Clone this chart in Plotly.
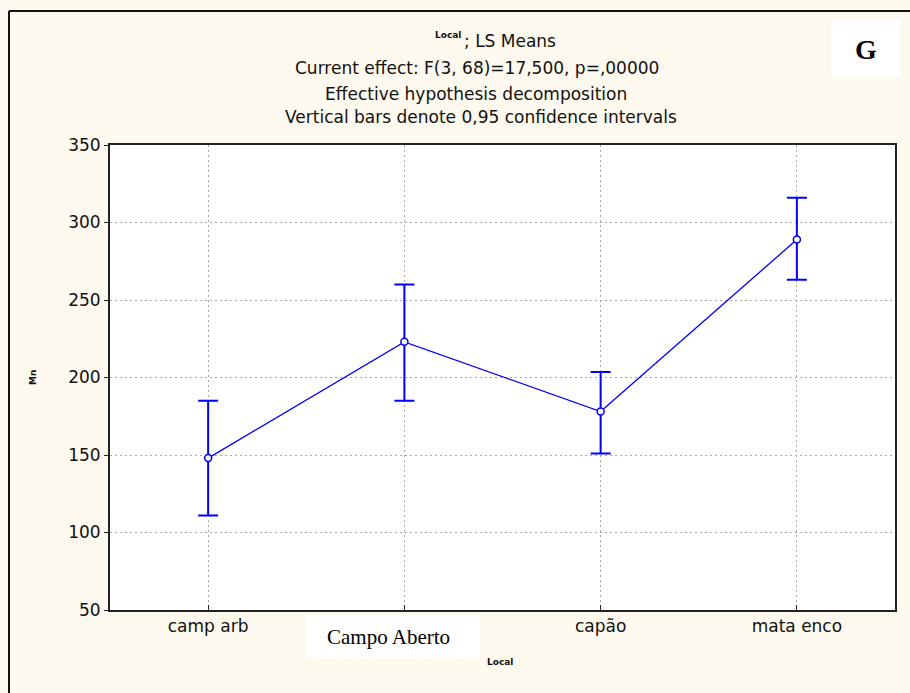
import plotly.graph_objects as go

categories = ["camp arb", "Campo Aberto", "capão", "mata enco"]
tick_labels = ["camp arb", "", "capão", "mata enco"]
means = [148, 223, 178, 289]
upper = [185, 260, 203.5, 316]
lower = [111, 185, 151, 263]

err_plus = [u - m for u, m in zip(upper, means)]
err_minus = [m - l for m, l in zip(means, lower)]
xpos = list(range(len(categories)))

fig = go.Figure()
fig.add_trace(go.Scatter(
    x=xpos, y=means, mode="lines+markers",
    line=dict(color="#0000FF", width=1.3),
    marker=dict(symbol="circle", size=7, color="white",
                line=dict(color="#0000FF", width=1.5)),
    error_y=dict(type="data", symmetric=False, array=err_plus, arrayminus=err_minus,
                 color="#0000FF", thickness=2, width=10),
    showlegend=False,
))

bg = "#FEF9EE"
sans = "DejaVu Sans, Verdana, sans-serif"
serif = "Liberation Serif, Times New Roman, serif"
fig.update_layout(
    width=910, height=693,
    margin=dict(l=110, r=15, t=145, b=83),
    paper_bgcolor=bg, plot_bgcolor="white",
    font=dict(family=sans, color="#111", size=16),
    xaxis=dict(
        range=[-0.5, 3.5], tickmode="array", tickvals=xpos, ticktext=tick_labels,
        showgrid=True, gridcolor="#a8a8a8", griddash="2px,3px", gridwidth=1,
        showline=True, linecolor="#222", linewidth=2, mirror=True,
        ticks="inside", ticklen=5, tickcolor="#222", zeroline=False,
        tickfont=dict(size=17),
    ),
    yaxis=dict(
        range=[50, 350], tickmode="array", tickvals=[50, 100, 150, 200, 250, 300, 350],
        showgrid=True, gridcolor="#a8a8a8", griddash="2px,3px", gridwidth=1,
        showline=True, linecolor="#222", linewidth=2, mirror=True,
        ticks="outside", ticklen=4, tickcolor="#222", zeroline=False,
        tickfont=dict(size=17),
    ),
)


def px(xp):
    return (xp - 110) / 785


def py(yp):
    return 1 - (yp - 145) / 465


title_lines = [
    ("; LS Means", 41, 510),
    ("Current effect: F(3, 68)=17,500, p=,00000", 68, 477),
    ("Effective hypothesis decomposition", 94, 476),
    ("Vertical bars denote 0,95 confidence intervals", 117, 481),
]
for txt, y, xc in title_lines:
    fig.add_annotation(xref="paper", yref="paper", x=px(xc), y=py(y),
                       text=txt, showarrow=False, font=dict(size=17),
                       xanchor="center", yanchor="middle")
fig.add_annotation(xref="paper", yref="paper", x=px(448), y=py(35),
                   text="<b>Local</b>", showarrow=False, font=dict(size=9),
                   xanchor="center", yanchor="middle")

# axis titles
fig.add_annotation(xref="paper", yref="paper", x=px(33), y=py(378),
                   text="<b>Mn</b>", showarrow=False, textangle=-90, font=dict(size=9),
                   xanchor="center", yanchor="middle")
fig.add_annotation(xref="paper", yref="paper", x=px(500), y=py(662),
                   text="<b>Local</b>", showarrow=False, font=dict(size=9),
                   xanchor="center", yanchor="middle")

# overlay label box
fig.add_shape(type="rect", xref="paper", yref="paper",
              x0=px(306), x1=px(480), y0=py(658), y1=py(615),
              fillcolor="white", line=dict(width=0), layer="above")
fig.add_annotation(xref="paper", yref="paper", x=px(388), y=py(637),
                   text=categories[1], showarrow=False,
                   xanchor="center", yanchor="middle",
                   font=dict(family=serif, size=21, color="black"))

# G box
fig.add_shape(type="rect", xref="paper", yref="paper",
              x0=px(831), x1=px(900), y0=py(77), y1=py(20),
              fillcolor="white", line=dict(width=0), layer="above")
fig.add_annotation(xref="paper", yref="paper", x=px(866), y=py(50),
                   text="<b>G</b>", showarrow=False,
                   xanchor="center", yanchor="middle",
                   font=dict(family=serif, size=28, color="black"))

# outer frame (left and top edges)
fig.add_shape(type="line", xref="paper", yref="paper",
              x0=px(9), x1=px(9), y0=py(700), y1=py(11),
              line=dict(color="#111", width=2))
fig.add_shape(type="line", xref="paper", yref="paper",
              x0=px(9), x1=px(920), y0=py(11), y1=py(11),
              line=dict(color="#111", width=2))

fig.write_html("out.html", config={"displayModeBar": False},
               post_script="document.body.style.margin='0';document.body.style.overflow='hidden';")
